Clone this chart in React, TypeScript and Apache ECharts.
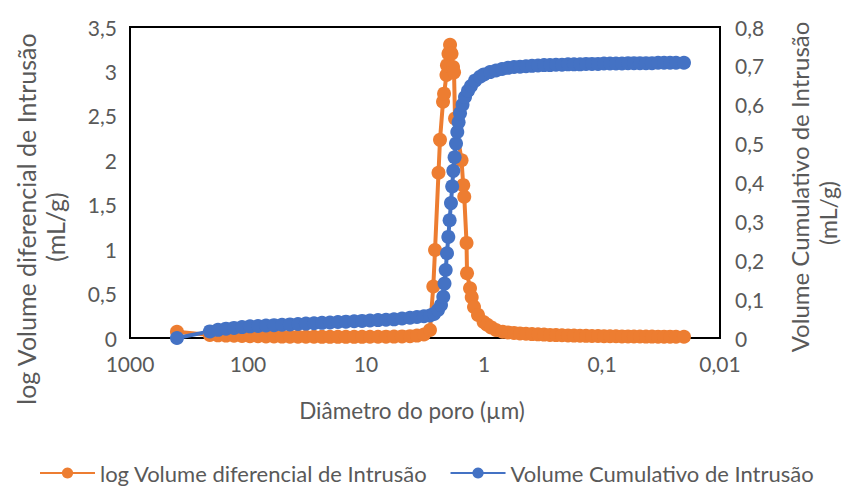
import React, { useEffect, useRef } from "react";
import * as echarts from "echarts";

// Diâmetro do poro (µm) for the differential curve
const diffDiam = [
  400, 210.5, 179.6, 153.6, 131.4, 112.4, 96.2, 82.3, 70.4, 60.2, 51.5, 44.1, 37.7, 32.3, 27.6, 23.6,
  20.2, 17.3, 14.8, 12.6, 10.8, 9.25, 7.91, 6.77, 5.79, 4.95, 4.24, 3.7, 3.23, 2.87, 2.69, 2.6, 2.43,
  2.36, 2.225, 2.18, 2.08, 2.06, 2.0, 1.94, 1.885, 1.83, 1.795, 1.76, 1.55, 1.5, 1.47, 1.406, 1.393,
  1.314, 1.271, 1.215, 1.124, 1.008, 0.943, 0.872, 0.791, 0.694, 0.626, 0.557, 0.4955, 0.4406, 0.392,
  0.3486, 0.31, 0.276, 0.2455, 0.2183, 0.1941, 0.1727, 0.1536, 0.1366, 0.1216, 0.1081, 0.0962, 0.0855,
  0.0761, 0.0677, 0.0602, 0.0536, 0.0477, 0.0424, 0.0377, 0.0335, 0.0298, 0.0265, 0.0236, 0.0202,
];
// log Volume diferencial de Intrusão (mL/g)
const diffVals = [
  0.07, 0.035, 0.03, 0.027, 0.025, 0.022, 0.02, 0.019, 0.018, 0.017, 0.016, 0.015, 0.015, 0.014, 0.014,
  0.013, 0.013, 0.013, 0.013, 0.013, 0.013, 0.014, 0.014, 0.015, 0.016, 0.018, 0.021, 0.027, 0.04, 0.09,
  0.58, 0.99, 1.86, 2.23, 2.66, 2.75, 2.96, 3.07, 3.2, 3.3, 3.2, 3.05, 2.99, 2.47, 2.0, 1.72, 1.59, 1.07,
  0.73, 0.56, 0.46, 0.35, 0.26, 0.18, 0.15, 0.12, 0.09, 0.07, 0.063, 0.057, 0.052, 0.048, 0.044, 0.041,
  0.038, 0.035, 0.033, 0.031, 0.029, 0.027, 0.026, 0.024, 0.023, 0.022, 0.021, 0.02, 0.019, 0.018, 0.018,
  0.017, 0.017, 0.016, 0.016, 0.015, 0.015, 0.015, 0.014, 0.014,
];

// Diâmetro do poro (µm) for the cumulative curve
const cumDiam = [
  400, 210.5, 179.6, 153.6, 131.4, 112.4, 96.2, 82.3, 70.4, 60.2, 51.5, 44.1, 37.7, 32.3, 27.6, 23.6,
  20.2, 17.3, 14.8, 12.6, 10.8, 9.25, 7.91, 6.77, 5.79, 4.95, 4.24, 3.7, 3.23, 2.87, 2.653, 2.454, 2.314,
  2.213, 2.161, 2.112, 2.059, 2.006, 1.956, 1.905, 1.86, 1.82, 1.775, 1.727, 1.684, 1.642, 1.597, 1.521,
  1.449, 1.366, 1.289, 1.192, 1.081, 1.0, 0.889, 0.791, 0.704, 0.626, 0.557, 0.4955, 0.4406, 0.392,
  0.3486, 0.31, 0.276, 0.2455, 0.2183, 0.1941, 0.1727, 0.1536, 0.1366, 0.1216, 0.1081, 0.0962, 0.0855,
  0.0761, 0.0677, 0.0602, 0.0536, 0.0477, 0.0424, 0.0377, 0.0335, 0.0298, 0.0265, 0.0236, 0.0202,
];
// Volume Cumulativo de Intrusão (mL/g)
const cumVals = [
  0, 0.017, 0.021, 0.024, 0.026, 0.028, 0.03, 0.031, 0.032, 0.033, 0.034, 0.035, 0.036, 0.037, 0.038,
  0.039, 0.04, 0.041, 0.042, 0.043, 0.044, 0.045, 0.046, 0.047, 0.048, 0.05, 0.052, 0.054, 0.056, 0.058,
  0.062, 0.072, 0.085, 0.106, 0.14, 0.175, 0.218, 0.26, 0.303, 0.347, 0.39, 0.43, 0.465, 0.5, 0.53,
  0.555, 0.578, 0.6, 0.62, 0.636, 0.648, 0.662, 0.672, 0.678, 0.684, 0.688, 0.692, 0.695, 0.697, 0.698,
  0.699, 0.7, 0.701, 0.702, 0.702, 0.703, 0.703, 0.704, 0.704, 0.704, 0.705, 0.705, 0.705, 0.706, 0.706,
  0.706, 0.706, 0.707, 0.707, 0.707, 0.707, 0.707, 0.708, 0.708, 0.708, 0.708, 0.708,
];

const xTickValues = [1000, 100, 10, 1, 0.1, 0.01];
const seriesNames = ["log Volume diferencial de Intrusão", "Volume Cumulativo de Intrusão"];
const leftTitle = ["log Volume diferencial de Intrusão", "(mL/g)"];
const rightTitle = ["Volume Cumulativo de Intrusão", "(mL/g)"];
const xTitle = "Diâmetro do poro (µm)";

const FONT = "Lato";
const GREY = "#595959";
const ORANGE = "#ED7D31";
const BLUE = "#4472C4";

const fmt = (v: number) => parseFloat(Number(v).toPrecision(10)).toString().replace(".", ",");

export default function App() {
  const ref = useRef<HTMLDivElement>(null);
  useEffect(() => {
    if (!ref.current) return;
    const chart = echarts.init(ref.current, undefined, { renderer: "svg" });
    const titleStyle = { fill: GREY, fontFamily: FONT, align: "center", verticalAlign: "middle" };
    chart.setOption({
      animation: false,
      textStyle: { fontFamily: FONT },
      grid: {
        left: 130, right: 124, top: 27, bottom: 150,
        show: true, borderColor: "#000", borderWidth: 2, backgroundColor: "transparent",
      },
      xAxis: {
        type: "log", logBase: 10, min: xTickValues[5], max: xTickValues[0], inverse: true,
        axisLine: { show: false }, axisTick: { show: false }, splitLine: { show: false },
        minorTick: { show: false },
        axisLabel: { color: GREY, fontSize: 21, fontFamily: FONT, margin: 15, formatter: (v: number) => fmt(v) },
      },
      yAxis: [
        {
          type: "value", min: 0, max: 3.5, interval: 0.5,
          axisLine: { show: false }, axisTick: { show: false }, splitLine: { show: false },
          axisLabel: { color: GREY, fontSize: 21, fontFamily: FONT, margin: 13, formatter: (v: number) => fmt(v) },
        },
        {
          type: "value", min: 0, max: 0.8, interval: 0.1, position: "right",
          axisLine: { show: false }, axisTick: { show: false }, splitLine: { show: false },
          axisLabel: { color: GREY, fontSize: 21, fontFamily: FONT, margin: 15, formatter: (v: number) => fmt(v) },
        },
      ],
      legend: {
        data: seriesNames,
        left: 39, top: 461, itemWidth: 55, itemHeight: 14, itemGap: 22, padding: 0,
        textStyle: { color: GREY, fontSize: 22, lineHeight: 24, fontFamily: FONT },
      },
      series: [
        {
          name: seriesNames[0], type: "line", yAxisIndex: 0,
          data: diffDiam.map((d, i) => [d, diffVals[i]]),
          symbol: "circle", symbolSize: 14,
          lineStyle: { color: ORANGE, width: 4 },
          itemStyle: { color: ORANGE },
        },
        {
          name: seriesNames[1], type: "line", yAxisIndex: 1,
          data: cumDiam.map((d, i) => [d, cumVals[i]]),
          symbol: "circle", symbolSize: 14,
          lineStyle: { color: BLUE, width: 4 },
          itemStyle: { color: BLUE },
        },
      ],
      graphic: [
        { type: "text", x: 26, y: 219, rotation: Math.PI / 2, style: { ...titleStyle, fontSize: 25, text: leftTitle[0] } },
        { type: "text", x: 55, y: 227, rotation: Math.PI / 2, style: { ...titleStyle, fontSize: 25, text: leftTitle[1] } },
        { type: "text", x: 799, y: 187, rotation: Math.PI / 2, style: { ...titleStyle, fontSize: 24, text: rightTitle[0] } },
        { type: "text", x: 828, y: 213, rotation: Math.PI / 2, style: { ...titleStyle, fontSize: 23, text: rightTitle[1] } },
        { type: "text", x: 412, y: 410, style: { ...titleStyle, fontSize: 22.5, text: xTitle } },
      ],
    });
    return () => chart.dispose();
  }, []);
  return <div ref={ref} style={{ width: 844, height: 488, position: "absolute", left: 0, top: 0 }} />;
}
